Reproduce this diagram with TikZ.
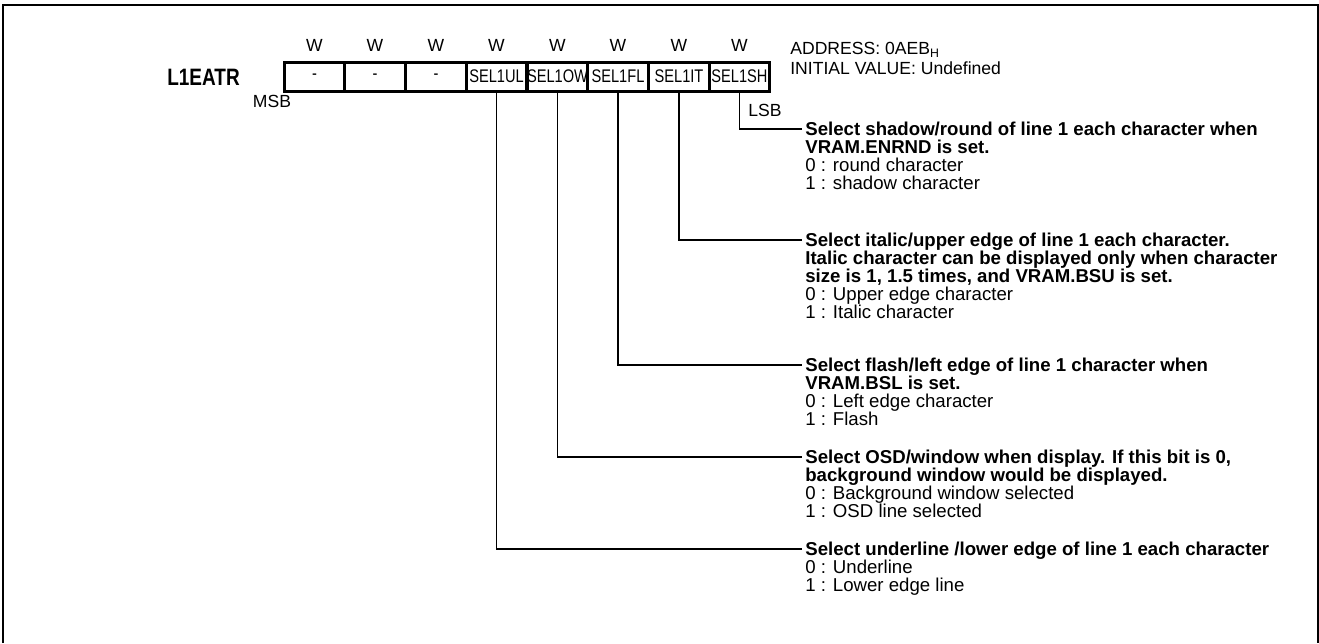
\documentclass[tikz,border=0pt]{standalone}
\usepackage{fontspec}
\setmainfont{Liberation Sans}
\newfontfamily\narrowfont[FakeStretch=0.8]{Liberation Sans}
\usetikzlibrary{positioning}
\tikzset{
  frame line/.style={line width=1.1pt},
  reg cell/.style={draw, line width=1.7pt, minimum width=1.215cm,
    minimum height=0.58cm, inner sep=0pt,
    font=\narrowfont\fontsize{10.4}{10.4}\selectfont},
  reg name/.style={inner sep=0pt,
    font=\narrowfont\bfseries\fontsize{13.5}{13.5}\selectfont},
  access/.style={inner sep=0pt, font=\fontsize{10}{10}\selectfont},
  info/.style={anchor=west, inner sep=0pt, font=\fontsize{10}{10}\selectfont},
  lead/.style={line width=0.8pt},
  desc/.style={anchor=north west, align=left, inner sep=0pt,
    font=\fontsize{10.6}{10.3}\selectfont}
}
\begin{document}
\begin{tikzpicture}
  \useasboundingbox (0,0) rectangle (26.38,-12.86);
  \draw[frame line] (0.06,-12.86) -- (0.06,-0.10) -- (26.36,-0.10) -- (26.36,-12.86);

  \node[reg name] (regname) at (4.07,-1.54) {L1EATR};

  \node[reg cell] (b7) at (6.29,-1.53) {-};
  \node[reg cell] (b6) at (7.50,-1.53) {-};
  \node[reg cell] (b5) at (8.72,-1.53) {-};
  \node[reg cell] (b4) at (9.93,-1.53) {SEL1UL};
  \node[reg cell] (b3) at (11.15,-1.53) {SEL1OW};
  \node[reg cell] (b2) at (12.36,-1.53) {SEL1FL};
  \node[reg cell] (b1) at (13.58,-1.53) {SEL1IT};
  \node[reg cell] (b0) at (14.79,-1.53) {SEL1SH};

  \node[access] (w7) at (6.29,-0.90) {W};
  \node[access] (w6) at (7.50,-0.90) {W};
  \node[access] (w5) at (8.72,-0.90) {W};
  \node[access] (w4) at (9.93,-0.90) {W};
  \node[access] (w3) at (11.15,-0.90) {W};
  \node[access] (w2) at (12.36,-0.90) {W};
  \node[access] (w1) at (13.58,-0.90) {W};
  \node[access] (w0) at (14.79,-0.90) {W};

  \node[access] (msb) at (5.44,-2.02) {MSB};
  \node[access, anchor=west] (lsb) at (14.96,-2.20) {LSB};

  \node[info] (addr) at (15.80,-1.00) {ADDRESS: 0AEB\textsubscript{H}};
  \node[info] (init) at (15.80,-1.36) {INITIAL VALUE: Undefined};

  % bit 0
  \coordinate (shend) at (16.04,-2.58);
  \node[desc] (shdesc) at (16.10,-2.43) {\textbf{Select shadow/round of line 1 each character when}\\
    \textbf{VRAM.ENRND is set.}\\ 0 : round character\\ 1 : shadow character};
  \draw[lead] (b0.south) |- (shend);

  % bit 1
  \coordinate (itend) at (16.04,-4.80);
  \node[desc] (itdesc) at (16.10,-4.65) {\textbf{Select italic/upper edge of line 1 each character.}\\
    \textbf{Italic character can be displayed only when character}\\
    \textbf{size is 1, 1.5 times, and VRAM.BSU is set.}\\ 0 : Upper edge character\\ 1 : Italic character};
  \draw[lead] (b1.south) |- (itend);

  % bit 2
  \coordinate (flend) at (16.04,-7.30);
  \node[desc] (fldesc) at (16.10,-7.15) {\textbf{Select flash/left edge of line 1 character when}\\
    \textbf{VRAM.BSL is set.}\\ 0 : Left edge character\\ 1 : Flash};
  \draw[lead] (b2.south) |- (flend);

  % bit 3
  \coordinate (owend) at (16.04,-9.14);
  \node[desc] (owdesc) at (16.10,-8.99) {\textbf{Select OSD/window when display. If this bit is 0,}\\
    \textbf{background window would be displayed.}\\ 0 : Background window selected\\ 1 : OSD line selected};
  \draw[lead] (b3.south) |- (owend);

  % bit 4
  \coordinate (ulend) at (16.04,-10.98);
  \node[desc] (uldesc) at (16.10,-10.83) {\textbf{Select underline /lower edge of line 1 each character}\\
    0 : Underline\\ 1 : Lower edge line};
  \draw[lead] (b4.south) |- (ulend);
\end{tikzpicture}
\end{document}
